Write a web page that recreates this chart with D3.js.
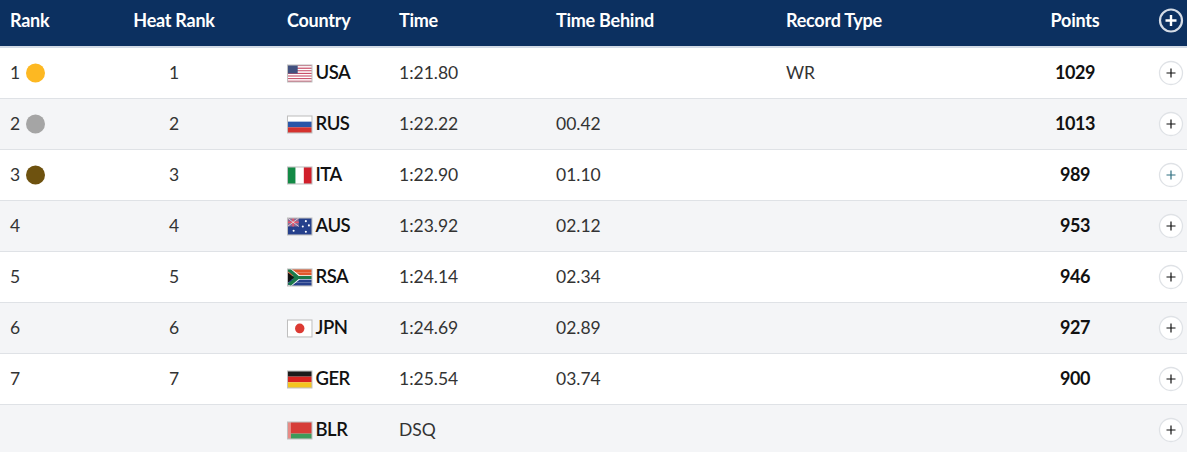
<!DOCTYPE html>
<html>
<head>
<meta charset="utf-8">
<script src="https://cdn.jsdelivr.net/npm/d3@7"></script>
<style>
html, body { margin: 0; padding: 0; background: #fff; overflow: hidden; }
svg { display: block; font-family: Lato, sans-serif; }
</style>
</head>
<body>
<svg width="1187" height="452"></svg>
<script>
const headers = ['Rank', 'Heat Rank', 'Country', 'Time', 'Time Behind', 'Record Type', 'Points']
const ranks = ['1', '2', '3', '4', '5', '6', '7', '']
const heatRanks = ['1', '2', '3', '4', '5', '6', '7', '']
const countries = ['USA', 'RUS', 'ITA', 'AUS', 'RSA', 'JPN', 'GER', 'BLR']
const times = ['1:21.80', '1:22.22', '1:22.90', '1:23.92', '1:24.14', '1:24.69', '1:25.54', 'DSQ']
const behind = ['', '00.42', '01.10', '02.12', '02.34', '02.89', '03.74', '']
const records = ['WR', '', '', '', '', '', '', '']
const points = ['1029', '1013', '989', '953', '946', '927', '900', '']
const medals = ['#fdb822', '#a5a5a5', '#6e520f']

const svg = d3.select('svg')
const width = 1187
const headerH = 46

// one band per row, 51px each, starting under the header strip
const y = d3.scaleBand().domain(d3.range(countries.length)).range([48, 48 + 51 * 8])

// left edge (or centre) of each column
const colX = d3.scaleOrdinal().domain(headers).range([10, 174, 287, 399, 556, 786, 1075])
const colAnchor = h => (h === 'Heat Rank' || h === 'Points') ? 'middle' : 'start'

// rows
const rows = svg.selectAll('g.row').data(countries).join('g')
  .attr('class', 'row')
  .attr('transform', (d, i) => 'translate(0,' + y(i) + ')')

rows.append('rect')
  .attr('width', width).attr('height', y.bandwidth())
  .attr('fill', (d, i) => i % 2 ? '#f4f5f7' : '#fff')

rows.append('line')
  .attr('x2', width).attr('y1', 50.5).attr('y2', 50.5)
  .attr('stroke', '#dfe2e6')

// header
svg.append('rect').attr('width', width).attr('height', headerH + 2).attr('fill', '#d3dbe6')
svg.append('rect').attr('width', width).attr('height', headerH).attr('fill', '#0c3060')

svg.selectAll('text.head').data(headers).join('text')
  .attr('class', 'head')
  .attr('x', d => colX(d))
  .attr('y', 26.5)
  .attr('text-anchor', colAnchor)
  .attr('font-size', 18)
  .attr('font-weight', 700)
  .attr('letter-spacing', -0.25)
  .attr('fill', '#fff')
  .text(d => d)

// header plus button
const headPlus = svg.append('g').attr('transform', 'translate(1171,20.5)')
headPlus.append('circle').attr('r', 11).attr('fill', 'none').attr('stroke', '#d5dce6').attr('stroke-width', 2.2)
headPlus.append('path').attr('d', 'M-5.5,0H5.5M0,-5.5V5.5').attr('stroke', '#fff').attr('stroke-width', 2.4)

function cell(col, values, opts) {
  opts = opts || {}
  rows.append('text')
    .attr('x', colX(col) + (opts.dx || 0))
    .attr('y', opts.y || 31)
    .attr('text-anchor', colAnchor(col))
    .attr('font-size', opts.size || 17.5)
    .attr('font-weight', opts.weight || 400)
    .attr('letter-spacing', opts.spacing || 0)
    .attr('fill', opts.fill || '#333')
    .text((d, i) => values[i])
}

cell('Rank', ranks)
cell('Heat Rank', heatRanks)
cell('Time', times)
cell('Time Behind', behind)
cell('Record Type', records)
cell('Points', points, { weight: 700, fill: '#111', size: 18, spacing: -0.5, y: 30.5 })
cell('Country', countries, { dx: 28.5, weight: 600, fill: '#111', size: 18.5, spacing: -0.5, y: 30.5 })

// medals
rows.filter((d, i) => i < medals.length).append('circle')
  .attr('cx', 35.5).attr('cy', 25).attr('r', 9.5)
  .attr('fill', (d, i) => medals[i])

// row plus buttons
const plus = rows.append('g').attr('transform', 'translate(1171,25)')
plus.append('circle').attr('r', 11.5).attr('fill', '#fff').attr('stroke', '#dfe2e6').attr('stroke-width', 1.3)
plus.append('path').attr('d', 'M-4.5,0H4.5M0,-4.5V4.5').attr('stroke', (d, i) => i === 2 ? '#2f6f80' : '#111').attr('stroke-width', 1.2)

// flags, drawn in a 24x16 box
const flagPainters = {
  USA(g) {
    bars(g, d3.range(13).map(i => i % 2 ? '#fff' : '#c9506a'), true)
    box(g, 0, 0, 10, 8, '#41507f')
  },
  RUS(g) { bars(g, ['#fff', '#2a56a8', '#d5322e'], true) },
  ITA(g) { bars(g, ['#138a45', '#fff', '#d11f2b'], false) },
  AUS(g) {
    box(g, 0, 0, 24, 16, '#25408c')
    box(g, 0, 0, 11, 8, '#8a6a95')
    g.append('path').attr('d', 'M0,4H11M5.5,0V8').attr('stroke', '#e7566a').attr('stroke-width', 1.6)
    g.append('path').attr('d', 'M0,0L11,8M11,0L0,8').attr('stroke', '#eee').attr('stroke-width', 0.7)
    g.selectAll('circle').data([[6, 12], [18, 3], [21, 7], [15, 8], [18, 13]]).join('circle')
      .attr('cx', d => d[0]).attr('cy', d => d[1]).attr('r', 1).attr('fill', '#fff')
  },
  RSA(g) {
    bars(g, ['#e0582c', '#e0582c', '#18784a', '#26408c', '#26408c'], true)
    g.append('path').attr('d', 'M0,0L9,8L0,16L4,16L12,10H24V6H12L4,0Z').attr('fill', '#fff')
    g.append('path').attr('d', 'M0,2L8,8L0,14L3,16L11,9.5H24V6.5H11L3,0H0Z').attr('fill', '#1b7a4b')
    g.append('path').attr('d', 'M0,3L6.5,8L0,13Z').attr('fill', '#111')
  },
  JPN(g) {
    box(g, 0, 0, 24, 16, '#fff')
    g.append('circle').attr('cx', 12).attr('cy', 8).attr('r', 4.6).attr('fill', '#dc3a33')
  },
  GER(g) { bars(g, ['#1a1a1a', '#d8231f', '#f4c51f'], true) },
  BLR(g) {
    box(g, 0, 0, 24, 11, '#d63c37')
    box(g, 0, 11, 24, 5, '#3c9a5b')
    box(g, 0, 0, 3.4, 16, '#e88b86')
  }
}

function box(g, x, y, w, h, fill) {
  g.append('rect').attr('x', x).attr('y', y).attr('width', w).attr('height', h).attr('fill', fill)
}

function bars(g, colors, horizontal) {
  const s = d3.scaleBand().domain(d3.range(colors.length)).range([0, horizontal ? 16 : 24])
  colors.forEach((c, i) => {
    if (horizontal) box(g, 0, s(i), 24, s.bandwidth(), c)
    else box(g, s(i), 0, s.bandwidth(), 16, c)
  })
}

const flags = rows.append('g').attr('transform', 'translate(287.5,17) scale(1.02,1.06)')
flags.each(function (d) { flagPainters[d](d3.select(this)) })
flags.append('rect').attr('width', 24).attr('height', 16)
  .attr('fill', 'none').attr('stroke', '#bfbfbf').attr('stroke-width', 1)
</script>
</body>
</html>
